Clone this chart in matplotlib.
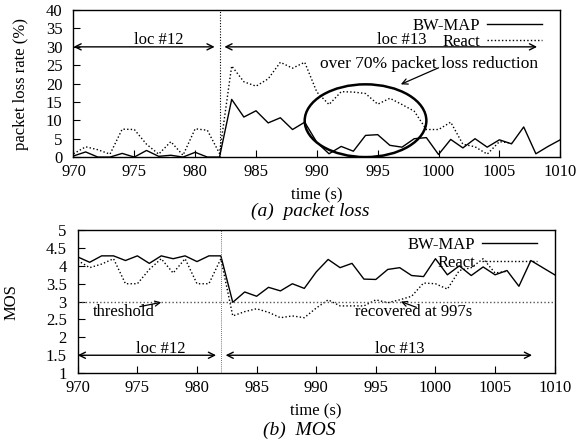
import matplotlib
matplotlib.use("Agg")
import matplotlib.pyplot as plt
from matplotlib.patches import Ellipse
from matplotlib.ticker import FuncFormatter
import numpy as np

plt.rcParams['font.family'] = ['Liberation Serif', 'DejaVu Serif']
plt.rcParams['font.size'] = 12

# ---------------- data ----------------
t_bw = list(range(970, 1011))
loss_bw = [0.3, 1.4, 0.0, 0.0, 1.0, 0.0, 1.8, 0.2, 0.5, 0.0, 1.3, 0.0, 0.0,
           15.7, 10.9, 12.6, 9.3, 10.7, 7.5, 9.5, 4.0, 0.9, 2.9, 1.6, 5.9,
           6.1, 3.2, 2.7, 5.0, 5.3, 0.7, 4.8, 2.5, 5.0, 2.7, 4.7, 3.6, 8.2,
           0.9, 2.9, 4.7]
t_re = list(range(970, 1007))
loss_re = [0.9, 2.8, 2.0, 0.8, 7.6, 7.5, 3.5, 0.8, 4.2, 0.5, 7.7, 7.3, 1.0,
           24.8, 20.5, 19.3, 21.3, 25.8, 24.2, 25.8, 17.7, 14.3, 17.8, 17.7,
           17.3, 14.4, 16.0, 14.3, 12.5, 7.5, 7.5, 9.5, 3.5, 2.8, 0.8, 4.2, 3.8]

mos_bw = [4.25, 4.10, 4.28, 4.28, 4.15, 4.28, 4.07, 4.28, 4.20, 4.28, 4.12,
          4.28, 4.28, 2.98, 3.27, 3.15, 3.40, 3.30, 3.50, 3.37, 3.83, 4.18,
          3.95, 4.07, 3.63, 3.62, 3.90, 3.95, 3.73, 3.70, 4.20, 3.75, 4.00,
          3.73, 3.97, 3.75, 3.87, 3.43, 4.15, 3.95, 3.75]
mos_re = [4.15, 3.95, 4.05, 4.20, 3.50, 3.50, 3.90, 4.20, 3.80, 4.20, 3.50,
          3.50, 4.20, 2.60, 2.72, 2.80, 2.70, 2.55, 2.60, 2.55, 2.82, 3.05,
          2.88, 2.88, 2.88, 3.05, 2.97, 3.05, 3.15, 3.52, 3.50, 3.35, 3.87,
          3.95, 4.20, 3.80, 3.85]

switch_t = 982
threshold = 3.0

# ---------------- figure ----------------
fig = plt.figure(figsize=(5.76, 4.40), dpi=100)
ax1 = fig.add_axes([0.1276, 0.643, 0.845, 0.334])
ax2 = fig.add_axes([0.135, 0.152, 0.828, 0.325])

dot = (0, (1, 1.6))

def style(ax):
    ax.tick_params(direction='in', length=5, width=0.8, labelsize=12,
                   top=False, right=False)
    ax.tick_params(axis='x', pad=5)
    ax.tick_params(axis='y', pad=8)
    for s in ax.spines.values():
        s.set_linewidth(1.0)
    ax.set_xlim(970, 1010)
    ax.set_xticks(np.arange(970, 1011, 5))

arrow_kw = dict(arrowstyle='<->', lw=1.0, color='black', mutation_scale=11,
                shrinkA=0, shrinkB=0)

# ---- top: packet loss ----
ax1.plot(t_bw, loss_bw, color='black', lw=1.0, label='BW-MAP')
ax1.plot(t_re, loss_re, color='black', lw=1.0, ls=dot, label='React')
ax1.axvline(switch_t, color='black', lw=0.8, ls=(0, (1, 1.5)))
ax1.set_ylim(0, 40)
ax1.set_yticks(np.arange(0, 41, 5))
style(ax1)
ax1.set_ylabel('packet loss rate (%)', fontsize=12, labelpad=12)
ax1.set_xlabel('time (s)', fontsize=12, labelpad=5)
ax1.annotate('', xy=(970, 30), xytext=(981.6, 30), arrowprops=arrow_kw)
ax1.annotate('', xy=(982.4, 30), xytext=(1008.1, 30), arrowprops=arrow_kw)
ax1.text(977, 30.9, 'loc #12', ha='center', va='baseline', fontsize=12)
ax1.text(997, 30.9, 'loc #13', ha='center', va='baseline', fontsize=12)
ax1.text(999.2, 25.3, 'over 70% packet loss reduction', ha='center',
         va='center', fontsize=12.5)
ax1.annotate('', xy=(996.9, 19.8), xytext=(1000.0, 24.3),
             arrowprops=dict(arrowstyle='->', lw=0.9, color='black',
                             mutation_scale=10, shrinkA=0, shrinkB=0))
ax1.add_patch(Ellipse((994.0, 9.9), width=10.0, height=19.8, fill=False,
                      lw=1.8, color='black'))
ax1.legend(loc='upper right', bbox_to_anchor=(0.962, 0.945),
           frameon=False, markerfirst=False, handlelength=3.3,
           handletextpad=0.4, labelspacing=0.0, fontsize=12,
           borderpad=0, borderaxespad=0)

# ---- bottom: MOS ----
ax2.plot(t_bw, mos_bw, color='black', lw=1.0, label='BW-MAP')
ax2.plot(t_re, mos_re, color='black', lw=1.0, ls=dot, label='React')
ax2.axvline(switch_t, color='#444444', lw=0.6, ls=(0, (1, 1.5)))
ax2.axhline(threshold, color='#555555', lw=1.0, ls=(0, (1, 1.6)))
ax2.set_ylim(1, 5)
ax2.set_yticks(np.arange(1, 5.01, 0.5))
ax2.yaxis.set_major_formatter(FuncFormatter(lambda v, p: '%g' % v))
style(ax2)
ax2.set_ylabel('MOS', fontsize=12, labelpad=19)
ax2.set_xlabel('time (s)', fontsize=12, labelpad=5)
ax2.annotate('', xy=(970, 1.5), xytext=(981.6, 1.5), arrowprops=arrow_kw)
ax2.annotate('', xy=(982.4, 1.5), xytext=(1008.1, 1.5), arrowprops=arrow_kw)
ax2.text(977, 1.57, 'loc #12', ha='center', va='baseline', fontsize=12)
ax2.text(997, 1.57, 'loc #13', ha='center', va='baseline', fontsize=12)
ax2.text(973.9, 2.72, 'threshold', ha='center', va='center', fontsize=12)
ax2.annotate('', xy=(977.0, 2.98), xytext=(975.2, 2.86),
             arrowprops=dict(arrowstyle='->', lw=0.9, color='black',
                             mutation_scale=9, shrinkA=0, shrinkB=0))
ax2.text(998.2, 2.72, 'recovered at 997s', ha='center', va='center',
         fontsize=12)
ax2.annotate('', xy=(997.1, 3.0), xytext=(998.4, 2.84),
             arrowprops=dict(arrowstyle='->', lw=0.9, color='black',
                             mutation_scale=9, shrinkA=0, shrinkB=0))
ax2.legend(loc='upper right', bbox_to_anchor=(0.962, 0.95),
           frameon=False, markerfirst=False, handlelength=3.3,
           handletextpad=0.4, labelspacing=0.08, fontsize=12,
           borderpad=0, borderaxespad=0)

fig.text(0.538, 0.519, '(a)  packet loss', ha='center', va='center',
         fontsize=14, style='italic')
fig.text(0.52, 0.022, '(b)  MOS', ha='center', va='center',
         fontsize=14, style='italic')

fig.savefig('out.png', dpi=100)
